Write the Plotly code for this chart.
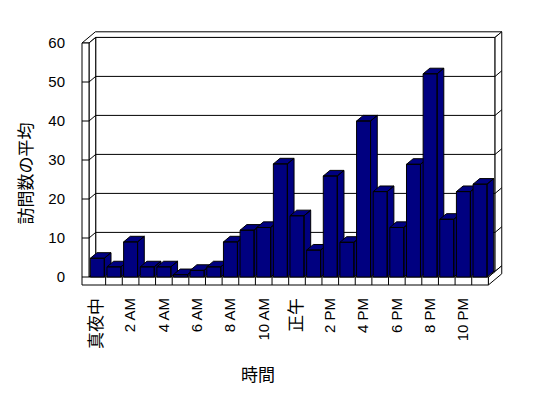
import plotly.graph_objects as go

# ---- data ----
hours = ["真夜中", "1 AM", "2 AM", "3 AM", "4 AM", "5 AM", "6 AM", "7 AM",
         "8 AM", "9 AM", "10 AM", "11 AM", "正午", "1 PM", "2 PM", "3 PM",
         "4 PM", "5 PM", "6 PM", "7 PM", "8 PM", "9 PM", "10 PM", "11 PM"]
visits = [4.8, 2.6, 9.0, 2.6, 2.6, 0.6, 1.7, 2.6, 9.0, 12.0, 12.7, 29.0,
          15.7, 6.9, 25.9, 8.9, 40.0, 21.9, 12.7, 28.9, 52.1, 14.8, 21.9, 23.8]
y_ticks = [0, 10, 20, 30, 40, 50, 60]
x_title = "時間"
y_title = "訪問数の平均"

# ---- geometry (pixel scale of the front plane) ----
W, H = 548, 398
OFF = 8  # page body margin
L, R, T, B = 78 - OFF, 505 - OFF, 30 - OFF, 288 - OFF
X0, SX = 89.0 - OFF, 16.64     # px of left floor edge, px per category
Y0, SY = 277.0 - OFF, 3.9      # px of value 0, px per unit
x_range = [(L - X0) / SX - 0.5, (R - X0) / SX - 0.5]
y_range = [(Y0 - B) / SY, (Y0 - T) / SY]
DX, DY = 6.7 / SX, 5.6 / SY          # depth offset in data units
BW = 0.42                              # half bar width
n = len(hours)
xl, xr = -0.5, n - 0.5
xo = (82 - OFF - X0) / SX - 0.5
yt = y_ticks[-1]
yf = -8 / SY

NAVY = "#000080"
fig = go.Figure()

def path(pts, close=True):
    s = "M " + " L ".join(f"{x:.4f},{y:.4f}" for x, y in pts)
    return s + (" Z" if close else "")

shapes = []
def add_poly(pts, fill="white"):
    shapes.append(dict(type="path", xref="x", yref="y", layer="below",
                       path=path(pts), fillcolor=fill,
                       line=dict(color="black", width=1)))

# back wall front face
add_poly([(xl + DX, DY), (xr + DX, DY), (xr + DX, yt + DY), (xl + DX, yt + DY)])
# top face of walls
add_poly([(xo, yt), (xl, yt), (xl + DX, yt + DY), (xr + DX, yt + DY),
          (xr + 2 * DX, yt + 2 * DY), (xo + 2 * DX, yt + 2 * DY)])
# back wall right face
add_poly([(xr + DX, DY), (xr + DX, yt + DY), (xr + 2 * DX, yt + 2 * DY), (xr + 2 * DX, 2 * DY)])
# floor right face
add_poly([(xr, 0), (xr + DX, DY), (xr + 2 * DX, 2 * DY), (xr + 2 * DX, yf + 2 * DY), (xr, yf)])
# floor top
add_poly([(xl, 0), (xr, 0), (xr + DX, DY), (xl + DX, DY)])
# left wall inner face
add_poly([(xl, 0), (xl, yt), (xl + DX, yt + DY), (xl + DX, DY)])
# left wall + floor front faces
add_poly([(xo, yf), (xr, yf), (xr, 0), (xl, 0), (xl, yt), (xo, yt)])

# gridlines
for v in y_ticks[1:-1]:
    shapes.append(dict(type="path", xref="x", yref="y", layer="below",
                       path=path([(xo, v), (xl, v), (xl + DX, v + DY), (xr + DX, v + DY),
                                  (xr + 2 * DX, v + 2 * DY)], close=False),
                       line=dict(color="black", width=1)))
shapes.append(dict(type="line", xref="x", yref="y", layer="below",
                   x0=xo, x1=xl, y0=0, y1=0, line=dict(color="black", width=1)))
# category separators on floor front
for k in range(1, n):
    shapes.append(dict(type="line", xref="x", yref="y", layer="below",
                       x0=xl + k, x1=xl + k, y0=yf, y1=0,
                       line=dict(color="black", width=1)))

# bars (front, top, side) drawn left to right
for i, v in enumerate(visits):
    front = [(i - BW, 0), (i + BW, 0), (i + BW, v), (i - BW, v), (i - BW, 0)]
    top = [(i - BW, v), (i + BW, v), (i + BW + DX, v + DY), (i - BW + DX, v + DY), (i - BW, v)]
    side = [(i + BW, 0), (i + BW + DX, DY), (i + BW + DX, v + DY), (i + BW, v), (i + BW, 0)]
    xs, ys = [], []
    for poly in (front, top, side):
        xs += [p[0] for p in poly] + [None]
        ys += [p[1] for p in poly] + [None]
    fig.add_trace(go.Scatter(x=xs, y=ys, mode="lines", fill="toself",
                             fillcolor=NAVY, line=dict(color="black", width=1),
                             hoverinfo="skip", showlegend=False, name=hours[i]))

def tlabel(s):
    if any(ord(c) > 0x2E80 for c in s):
        return f'<span style="font-size:17px">{s}</span>'
    return s

tick_idx = list(range(0, n, 2))
FONT = "Liberation Sans, Arial, Noto Sans CJK JP, sans-serif"
fig.update_layout(
    width=W, height=H,
    margin=dict(l=L, r=W - R, t=T, b=H - B, pad=0),
    paper_bgcolor="white", plot_bgcolor="white",
    font=dict(family=FONT, size=15, color="black"),
    shapes=shapes,
    xaxis=dict(range=x_range, showgrid=False, zeroline=False, showline=False,
               tickmode="array", tickvals=tick_idx,
               ticktext=[tlabel(hours[i]) for i in tick_idx],
               tickangle=-90, ticks="outside", ticklen=3,
               tickcolor="rgba(0,0,0,0)", fixedrange=True),
    yaxis=dict(range=y_range, showgrid=False, zeroline=False, showline=False,
               tickmode="array", tickvals=y_ticks, ticks="outside", ticklen=9,
               tickcolor="rgba(0,0,0,0)", fixedrange=True),
    annotations=[
        dict(text=x_title, xref="paper", yref="paper",
             x=(258.3 - OFF - L) / (R - L), y=(H - (375 - OFF) - (H - B)) / (B - T),
             showarrow=False, font=dict(size=17), xanchor="center", yanchor="middle"),
        dict(text=y_title, xref="paper", yref="paper",
             x=(26.7 - OFF - L) / (R - L), y=(H - (173.7 - OFF) - (H - B)) / (B - T),
             showarrow=False, font=dict(size=17), textangle=-90,
             xanchor="center", yanchor="middle"),
    ],
)

fig.write_html("out.html")
